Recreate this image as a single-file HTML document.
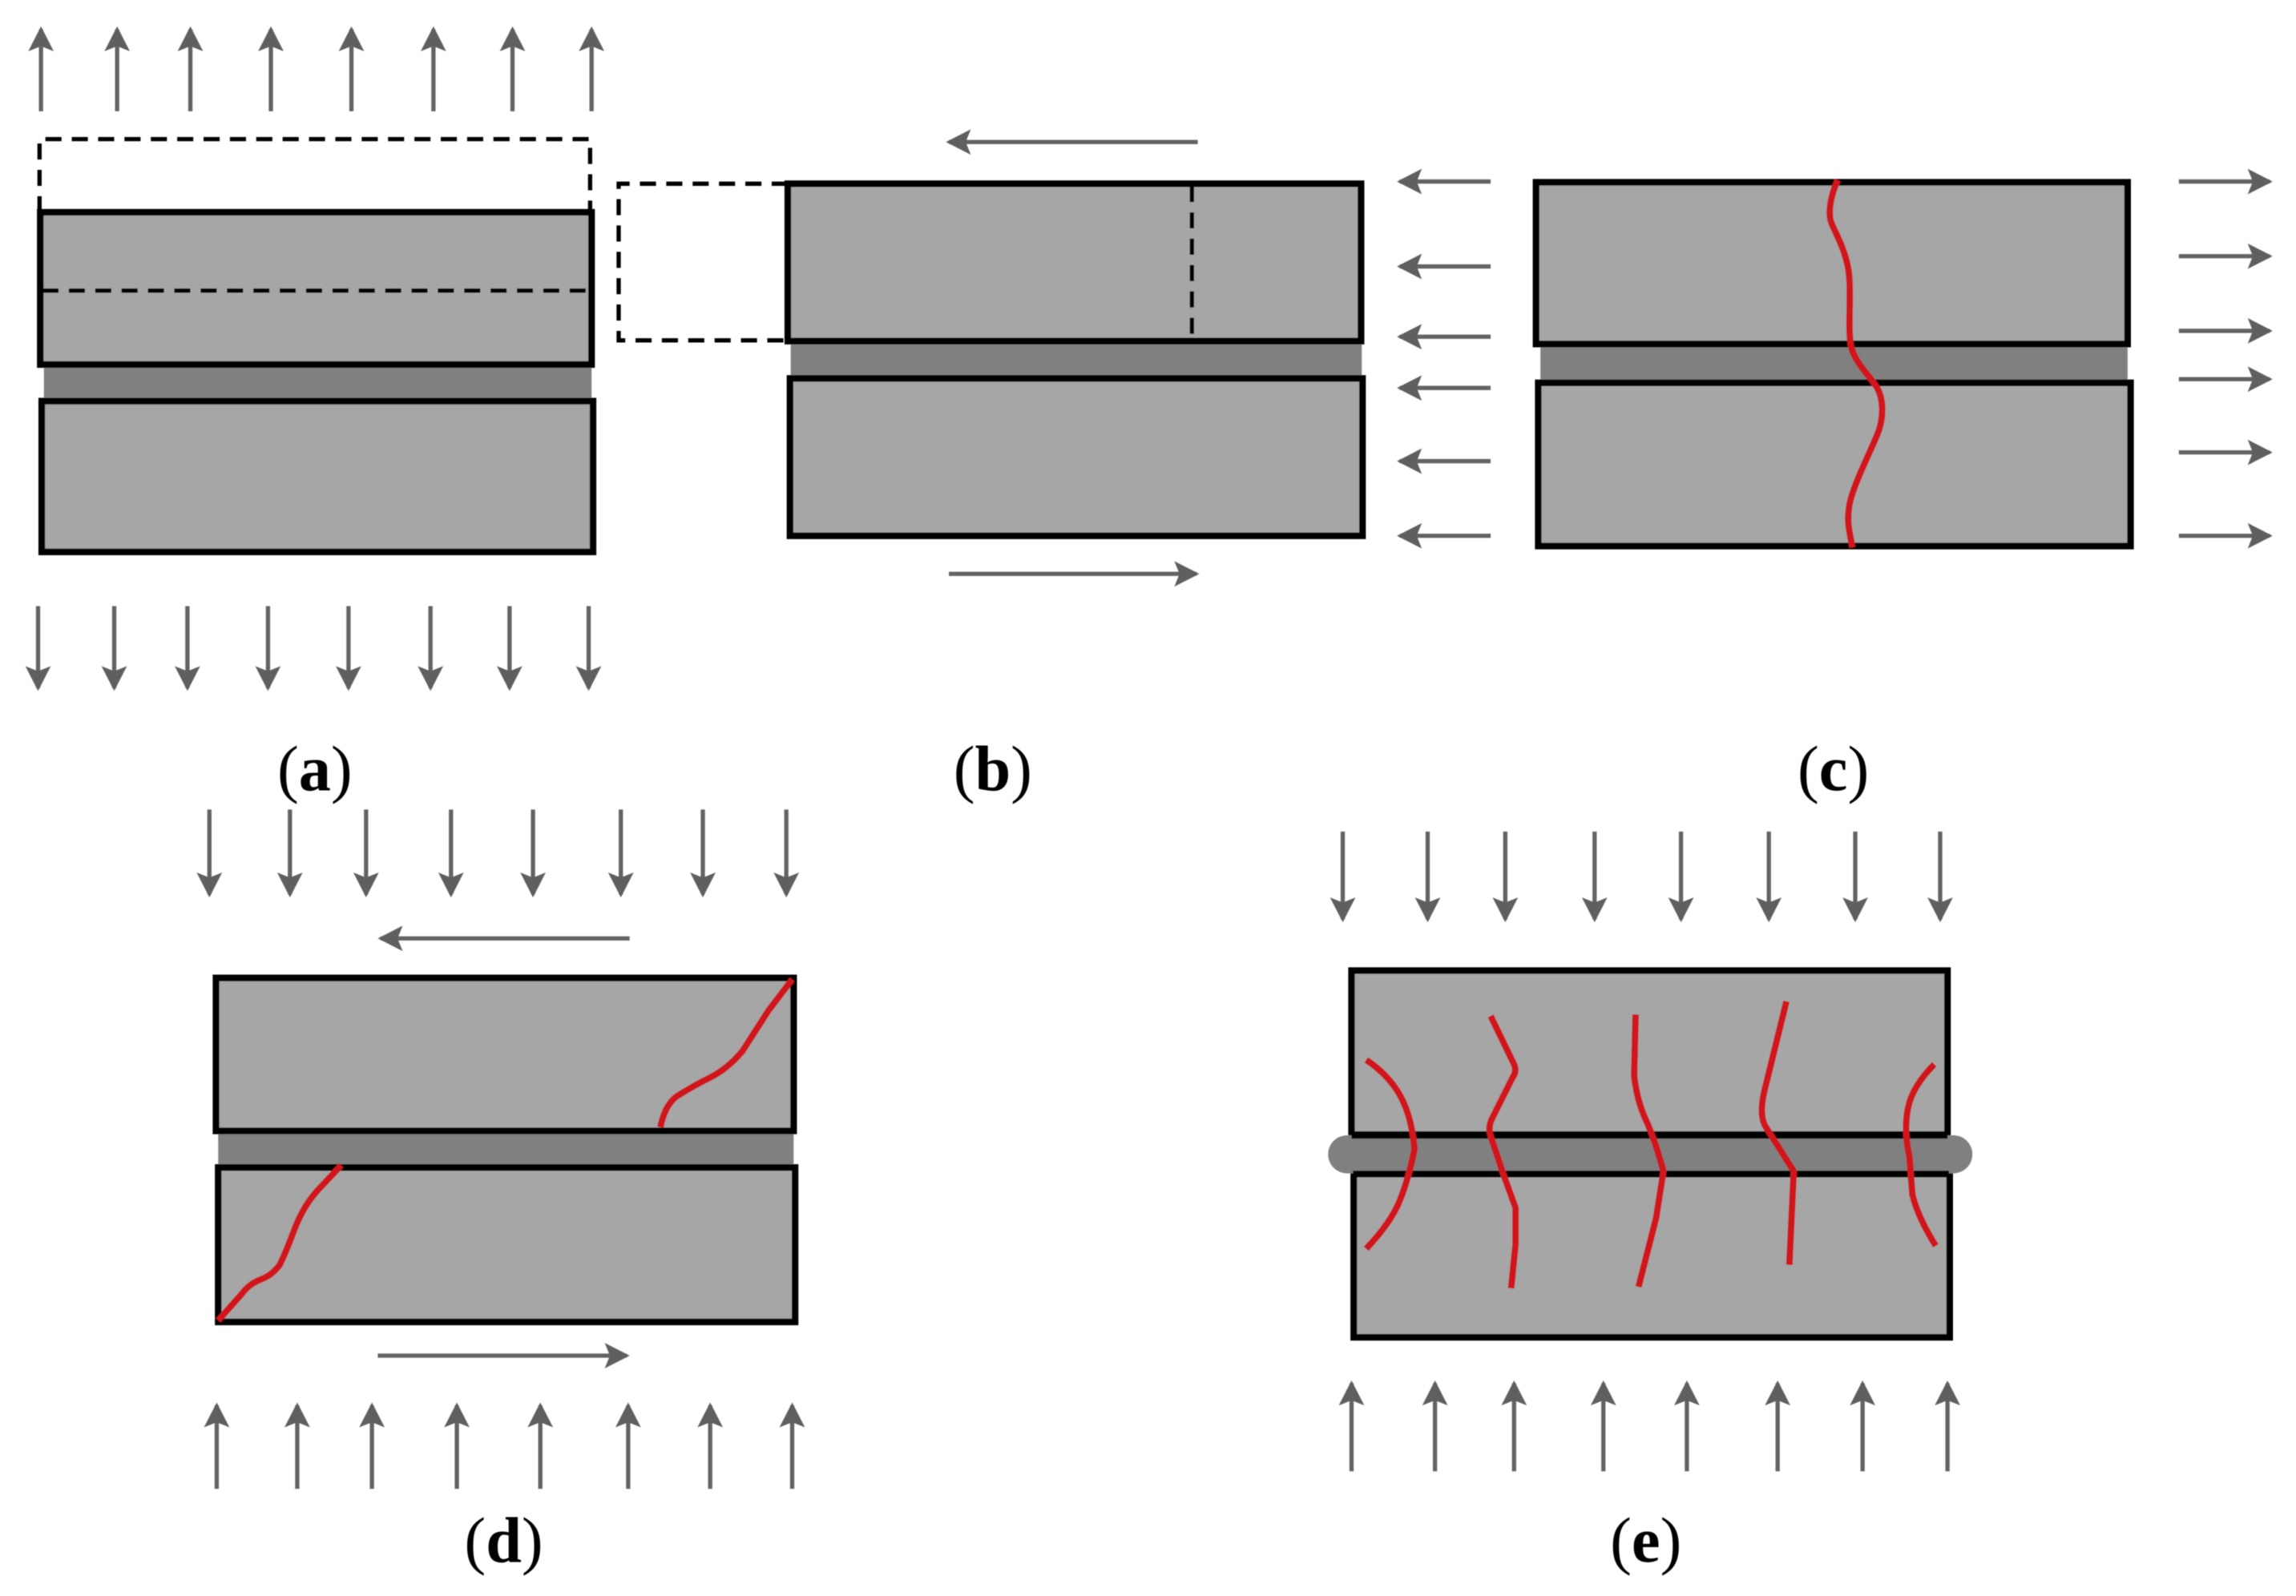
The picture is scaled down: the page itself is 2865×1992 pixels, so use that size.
<!DOCTYPE html>
<html><head><meta charset="utf-8"><style>
html,body{margin:0;padding:0;background:#fff}
svg{display:block}
.b{fill:#a6a6a6;stroke:#000;stroke-width:4.5}
.m{fill:#808080}
.d{fill:none;stroke:#000;stroke-width:2.9;stroke-dasharray:11 7}
.a line{stroke:#636363;stroke-width:2.9;marker-end:url(#h)}
.r{fill:none;stroke:#d0161a;stroke-width:4.4;stroke-linejoin:round;stroke-linecap:butt}
text{font-family:"Liberation Serif",serif;font-size:44px;text-anchor:middle;fill:#000}
text tspan{font-weight:bold}
</style></head><body>
<svg width="2865" height="1992" viewBox="0 0 1568 1090.2" xmlns="http://www.w3.org/2000/svg">
<defs>
<marker id="h" markerUnits="userSpaceOnUse" markerWidth="22" markerHeight="22" refX="14" refY="11" orient="auto" overflow="visible"><path d="M16 11L-1 2.300L2.500 11L-1 19.700Z" fill="#5e5e5e"/></marker>
<filter id="f" filterUnits="userSpaceOnUse" x="0" y="0" width="1568" height="1091"><feGaussianBlur stdDeviation="0.35"/></filter>
</defs>
<rect width="1568" height="1090.2" fill="#fff"/>
<g filter="url(#f)">
<!-- a -->
<path class="d" d="M27 145V95H403V145"/>
<rect class="m" x="30" y="249" width="374" height="25"/>
<rect class="b" x="27.500" y="145" width="376.500" height="104"/>
<rect class="b" x="28.500" y="274" width="376.500" height="103"/>
<path class="d" d="M29 198.500H402"/>
<g class="a">
<line x1="28" y1="76" x2="28" y2="20"/><line x1="80" y1="76" x2="80" y2="20"/><line x1="130" y1="76" x2="130" y2="20"/><line x1="185" y1="76" x2="185" y2="20"/><line x1="240" y1="76" x2="240" y2="20"/><line x1="296" y1="76" x2="296" y2="20"/><line x1="350" y1="76" x2="350" y2="20"/><line x1="404" y1="76" x2="404" y2="20"/>
<line x1="26" y1="414" x2="26" y2="470"/><line x1="78" y1="414" x2="78" y2="470"/><line x1="128" y1="414" x2="128" y2="470"/><line x1="183" y1="414" x2="183" y2="470"/><line x1="238" y1="414" x2="238" y2="470"/><line x1="294" y1="414" x2="294" y2="470"/><line x1="348" y1="414" x2="348" y2="470"/><line x1="402" y1="414" x2="402" y2="470"/>
</g>
<text x="215" y="540">(<tspan>a</tspan>)</text>

<!-- b -->
<path class="d" d="M538 125.500H422.500V232.500H538"/>
<rect class="m" x="540" y="233" width="390" height="25"/>
<rect class="b" x="538" y="125.500" width="391.500" height="107.500"/>
<rect class="b" x="539.500" y="258.500" width="391" height="107.500"/>
<path class="d" d="M814 127V232"/>
<g class="a">
<line x1="818" y1="97" x2="648" y2="97"/>
<line x1="648" y1="392" x2="817" y2="392"/>
</g>
<text x="678" y="540">(<tspan>b</tspan>)</text>

<!-- c -->
<rect class="m" x="1052" y="235" width="401" height="26"/>
<rect class="b" x="1049" y="124.500" width="404" height="110.500"/>
<rect class="b" x="1050.500" y="261.500" width="404.500" height="111.500"/>
<path class="r" d="M1255 123C1250 134 1248 146 1251 153S1262 174 1263 190S1262 225 1264 236S1278 258 1282 265S1287 285 1282 297S1265 333 1263 345S1263 362 1265 374"/>
<g class="a">
<line x1="1018" y1="124" x2="956" y2="124"/><line x1="1018" y1="182" x2="956" y2="182"/><line x1="1018" y1="230" x2="956" y2="230"/><line x1="1018" y1="265" x2="956" y2="265"/><line x1="1018" y1="315" x2="956" y2="315"/><line x1="1018" y1="366" x2="956" y2="366"/>
<line x1="1488" y1="124" x2="1550" y2="124"/><line x1="1488" y1="175" x2="1550" y2="175"/><line x1="1488" y1="226" x2="1550" y2="226"/><line x1="1488" y1="259" x2="1550" y2="259"/><line x1="1488" y1="309" x2="1550" y2="309"/><line x1="1488" y1="366" x2="1550" y2="366"/>
</g>
<text x="1252" y="540">(<tspan>c</tspan>)</text>

<!-- d -->
<rect class="m" x="149" y="772" width="393" height="25"/>
<rect class="b" x="147.500" y="668" width="394.500" height="104.500"/>
<rect class="b" x="149" y="797.500" width="394" height="105.500"/>
<path class="r" d="M541 669L525 690L507 718Q497 730 485 736T462 749Q454 755 451 770"/>
<path class="r" d="M233 796L217 813Q207 824 201 840T191 864Q186 871 178 874T165 884L149 902"/>
<g class="a">
<line x1="143" y1="553" x2="143" y2="611"/><line x1="198" y1="553" x2="198" y2="611"/><line x1="250" y1="553" x2="250" y2="611"/><line x1="308" y1="553" x2="308" y2="611"/><line x1="364" y1="553" x2="364" y2="611"/><line x1="424" y1="553" x2="424" y2="611"/><line x1="480" y1="553" x2="480" y2="611"/><line x1="537" y1="553" x2="537" y2="611"/>
<line x1="430" y1="641" x2="260" y2="641"/>
<line x1="258" y1="926" x2="428" y2="926"/>
<line x1="148" y1="1017" x2="148" y2="960"/><line x1="203" y1="1017" x2="203" y2="960"/><line x1="254" y1="1017" x2="254" y2="960"/><line x1="312" y1="1017" x2="312" y2="960"/><line x1="369" y1="1017" x2="369" y2="960"/><line x1="429" y1="1017" x2="429" y2="960"/><line x1="485" y1="1017" x2="485" y2="960"/><line x1="541" y1="1017" x2="541" y2="960"/>
</g>
<text x="344" y="1067">(<tspan>d</tspan>)</text>

<!-- e -->
<rect class="b" x="923" y="663" width="407" height="112"/>
<rect class="b" x="924.500" y="802" width="407" height="111.500"/>
<rect class="m" x="907" y="775.500" width="440" height="26" rx="13"/>
<path d="M923 775.500H1330M924 802H1331" fill="none" stroke="#000" stroke-width="4.500"/>
<path class="r" d="M933 724Q948 734 956 748T966 785Q962 805 956 820T933 853"/>
<path class="r" d="M1018 694L1034 727Q1036 732 1033 736L1019 764Q1016 770 1018 776L1027 803L1035 825L1035 850L1032 880"/>
<path class="r" d="M1117 693L1116 735Q1118 752 1124 765T1136 800L1131 832L1119 879"/>
<path class="r" d="M1220 684L1205 745Q1201 762 1206 770T1225 800L1222 864"/>
<path class="r" d="M1321 727Q1306 742 1303 757T1304 790L1306 816Q1310 832 1322 851"/>
<g class="a">
<line x1="917" y1="568" x2="917" y2="628"/><line x1="975" y1="568" x2="975" y2="628"/><line x1="1028" y1="568" x2="1028" y2="628"/><line x1="1089" y1="568" x2="1089" y2="628"/><line x1="1148" y1="568" x2="1148" y2="628"/><line x1="1208" y1="568" x2="1208" y2="628"/><line x1="1267" y1="568" x2="1267" y2="628"/><line x1="1325" y1="568" x2="1325" y2="628"/>
<line x1="923" y1="1005" x2="923" y2="945"/><line x1="980" y1="1005" x2="980" y2="945"/><line x1="1034" y1="1005" x2="1034" y2="945"/><line x1="1095" y1="1005" x2="1095" y2="945"/><line x1="1152" y1="1005" x2="1152" y2="945"/><line x1="1214" y1="1005" x2="1214" y2="945"/><line x1="1272" y1="1005" x2="1272" y2="945"/><line x1="1330" y1="1005" x2="1330" y2="945"/>
</g>
<text x="1124" y="1067">(<tspan>e</tspan>)</text>
</g>
</svg>
</body></html>
